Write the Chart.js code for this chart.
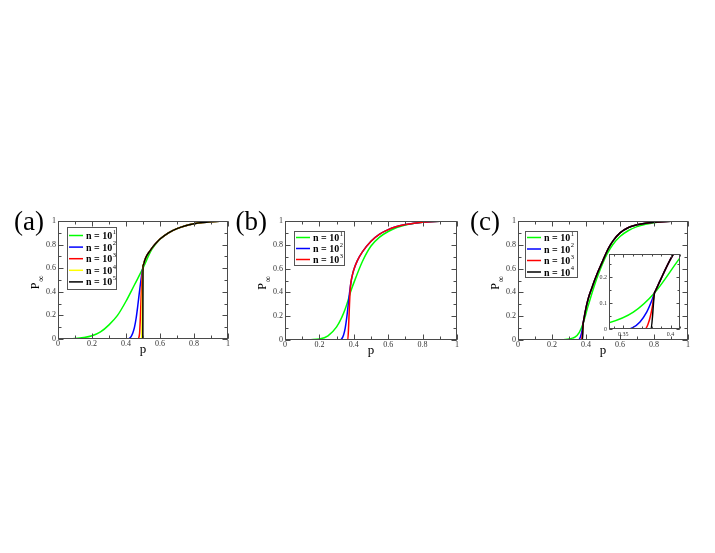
<!DOCTYPE html>
<html><head><meta charset="utf-8">
<script src="https://cdn.jsdelivr.net/npm/chart.js@4.4.1/dist/chart.umd.min.js"></script>
<style>
html,body{margin:0;padding:0;background:#fff;width:715px;height:553px;overflow:hidden;position:relative}
.box{position:absolute}
</style></head><body>
<div class="box" id="wa" style="left:0px;top:195px;width:240px;height:170px"><canvas id="ca"></canvas></div>
<div class="box" id="wb" style="left:232px;top:195px;width:235px;height:170px"><canvas id="cb"></canvas></div>
<div class="box" id="wc" style="left:465px;top:195px;width:240px;height:170px"><canvas id="cc"></canvas></div>
<div class="box" id="wi" style="left:585px;top:246px;width:105px;height:100px"><canvas id="ci"></canvas></div>
<script>
// ---------------- data: panel (a) ----------------
const pA_n1 = [0, 0.05, 0.1, 0.15, 0.2, 0.25, 0.3, 0.35, 0.4, 0.45, 0.5, 0.55, 0.6, 0.65, 0.7, 0.75, 0.8, 0.85, 0.9, 0.95, 1];
const yA_n1 = [0, 0.002, 0.005, 0.012, 0.027, 0.06, 0.12, 0.2, 0.32, 0.46, 0.6, 0.755, 0.845, 0.9, 0.935, 0.96, 0.976, 0.987, 0.994, 0.998, 1];
const pA_n2 = [0, 0.41, 0.42, 0.43, 0.44, 0.45, 0.46, 0.47, 0.48, 0.49, 0.5, 0.51, 0.52, 0.54, 0.56, 0.58, 0.6, 0.65, 0.7, 0.75, 0.8, 0.85, 0.9, 0.95, 1];
const yA_n2 = [0, 0, 0.006, 0.02, 0.05, 0.1, 0.18, 0.29, 0.41, 0.52, 0.61, 0.665, 0.7, 0.745, 0.785, 0.818, 0.847, 0.9, 0.935, 0.96, 0.976, 0.987, 0.994, 0.998, 1];
const pA_n3 = [0, 0.47, 0.475, 0.48, 0.485, 0.49, 0.495, 0.5, 0.501, 0.51, 0.52, 0.54, 0.56, 0.58, 0.6, 0.65, 0.7, 0.75, 0.8, 0.85, 0.9, 0.95, 1];
const yA_n3 = [0, 0, 0.01, 0.05, 0.2, 0.4, 0.53, 0.615, 0.62, 0.665, 0.7, 0.745, 0.785, 0.818, 0.847, 0.9, 0.935, 0.96, 0.976, 0.987, 0.994, 0.998, 1];
const pA_n4 = [0, 0.49, 0.493, 0.496, 0.498, 0.5, 0.501, 0.51, 0.52, 0.54, 0.56, 0.58, 0.6, 0.65, 0.7, 0.75, 0.8, 0.85, 0.9, 0.95, 1];
const yA_n4 = [0, 0, 0.05, 0.35, 0.55, 0.62, 0.625, 0.665, 0.7, 0.745, 0.785, 0.818, 0.847, 0.9, 0.935, 0.96, 0.976, 0.987, 0.994, 0.998, 1];
const pA_n5 = [0, 0.499, 0.5, 0.501, 0.51, 0.52, 0.54, 0.56, 0.58, 0.6, 0.65, 0.7, 0.75, 0.8, 0.85, 0.9, 0.95, 1];
const yA_n5 = [0, 0, 0.62, 0.625, 0.665, 0.7, 0.745, 0.785, 0.818, 0.847, 0.9, 0.935, 0.96, 0.976, 0.987, 0.994, 0.998, 1];

// ---------------- data: panel (b) ----------------
const pB_n1 = [0, 0.1, 0.15, 0.2, 0.25, 0.3, 0.33, 0.35, 0.37, 0.38, 0.4, 0.45, 0.5, 0.55, 0.6, 0.65, 0.7, 0.75, 0.8, 0.9, 1];
const yB_n1 = [0, 0.001, 0.003, 0.008, 0.035, 0.11, 0.19, 0.26, 0.35, 0.4, 0.48, 0.66, 0.79, 0.865, 0.912, 0.945, 0.967, 0.98, 0.989, 0.997, 1];
const pB_n2 = [0, 0.32, 0.33, 0.34, 0.35, 0.36, 0.37, 0.38, 0.39, 0.4, 0.42, 0.45, 0.5, 0.55, 0.6, 0.65, 0.7, 0.75, 0.8, 0.9, 1];
const yB_n2 = [0, 0, 0.01, 0.04, 0.1, 0.2, 0.33, 0.45, 0.535, 0.59, 0.665, 0.74, 0.83, 0.89, 0.928, 0.953, 0.97, 0.982, 0.99, 0.998, 1];
const pB_n3 = [0, 0.365, 0.37, 0.375, 0.38, 0.385, 0.39, 0.4, 0.42, 0.45, 0.5, 0.55, 0.6, 0.65, 0.7, 0.75, 0.8, 0.9, 1];
const yB_n3 = [0, 0, 0.12, 0.3, 0.44, 0.5, 0.535, 0.59, 0.665, 0.74, 0.83, 0.89, 0.928, 0.953, 0.97, 0.982, 0.99, 0.998, 1];

// ---------------- data: panel (c) (also used by the inset) ----------------
const pC_n1 = [0, 0.2, 0.25, 0.28, 0.3, 0.32, 0.335, 0.3607, 0.383, 0.409, 0.43, 0.45, 0.475, 0.5, 0.525, 0.557, 0.6, 0.65, 0.7, 0.75, 0.8, 0.9, 1];
const yC_n1 = [0, 0, 0.002, 0.005, 0.009, 0.016, 0.024, 0.065, 0.139, 0.27, 0.37, 0.46, 0.56, 0.65, 0.725, 0.8, 0.87, 0.92, 0.953, 0.973, 0.986, 0.997, 1];
const pC_n2 = [0, 0.355, 0.36, 0.3677, 0.3748, 0.38, 0.383, 0.384, 0.39, 0.4, 0.41, 0.42, 0.435, 0.45, 0.465, 0.48, 0.5, 0.52, 0.54, 0.56, 0.6, 0.65, 0.7, 0.75, 0.8, 0.9, 1];
const yC_n2 = [0, 0, 0.005, 0.027, 0.065, 0.108, 0.139, 0.147, 0.195, 0.27, 0.33, 0.38, 0.44, 0.5, 0.555, 0.605, 0.67, 0.735, 0.79, 0.835, 0.9, 0.945, 0.968, 0.982, 0.99, 0.998, 1];
const pC_n3 = [0, 0.373, 0.3776, 0.381, 0.383, 0.384, 0.39, 0.4, 0.41, 0.42, 0.435, 0.45, 0.465, 0.48, 0.5, 0.52, 0.54, 0.56, 0.6, 0.65, 0.7, 0.75, 0.8, 0.9, 1];
const yC_n3 = [0, 0, 0.034, 0.09, 0.139, 0.147, 0.195, 0.27, 0.33, 0.38, 0.44, 0.5, 0.555, 0.605, 0.67, 0.735, 0.79, 0.835, 0.9, 0.945, 0.968, 0.982, 0.99, 0.998, 1];
const pC_n4 = [0, 0.3794, 0.383, 0.384, 0.39, 0.4, 0.41, 0.42, 0.435, 0.45, 0.465, 0.48, 0.5, 0.52, 0.54, 0.56, 0.6, 0.65, 0.7, 0.75, 0.8, 0.9, 1];
const yC_n4 = [0, 0, 0.139, 0.147, 0.195, 0.27, 0.33, 0.38, 0.44, 0.5, 0.555, 0.605, 0.67, 0.735, 0.79, 0.835, 0.9, 0.945, 0.968, 0.982, 0.99, 0.998, 1];

// ---------------- labels / ticks ----------------
const legendExpA = ['1', '2', '3', '4', '5'];
const legendExpB = ['1', '2', '3'];
const legendExpC = ['1', '2', '3', '4'];
const mainTicks = {min: 0, max: 1, step: 0.2, minor: 0.1};
const insetX = {min: 0.335, max: 0.41, step: 0.05, minor: 0.01};
const insetY = {min: 0, max: 0.29, step: 0.1, minor: 0.05};

const COLORS = {g: '#00ff00', b: '#0000ff', r: '#ff0000', y: '#ffff00', k: '#000000'};
const SERIF = '"Liberation Serif", "Times New Roman", serif';

function pts(px, py) { return px.map((x, i) => ({x: x, y: py[i]})); }
function ds(px, py, color, order) {
  return {data: pts(px, py), borderColor: color, backgroundColor: color, borderWidth: 1.5,
          pointRadius: 0, cubicInterpolationMode: 'monotone', fill: false, order: order};
}
function fmt(v) { return String(+(+v).toFixed(3)); }

const decor = {
  id: 'decor',
  beforeDatasetsDraw(chart, args, o) {
    if (o.whiteArea) {
      const a = chart.chartArea, c = chart.ctx;
      c.save(); c.fillStyle = '#fff';
      c.fillRect(a.left, a.top, a.right - a.left, a.bottom - a.top);
      c.restore();
    }
  },
  afterDraw(chart, args, o) {
    const c = chart.ctx, a = chart.chartArea, xs = chart.scales.x, ys = chart.scales.y;
    c.save();
    c.strokeStyle = '#4a4a4a'; c.lineWidth = 1;
    const L = Math.round(a.left) + 0.5, R = Math.round(a.right) - 0.5;
    const T = Math.round(a.top) + 0.5, B = Math.round(a.bottom) - 0.5;
    c.strokeRect(L, T, R - L, B - T);
    const mult = (scale, step) => {
      const out = [];
      for (let k = Math.ceil(scale.min / step - 1e-6); k * step <= scale.max + 1e-9; k++) out.push(k * step);
      return out;
    };
    const drawTicks = (scale, step, len, horiz) => {
      c.beginPath();
      mult(scale, step).forEach(v => {
        const p = Math.round(scale.getPixelForValue(v)) + 0.5;
        if (horiz) { c.moveTo(p, B); c.lineTo(p, B - len); c.moveTo(p, T); c.lineTo(p, T + len); }
        else { c.moveTo(L, p); c.lineTo(L + len, p); c.moveTo(R, p); c.lineTo(R - len, p); }
      });
      c.stroke();
    };
    drawTicks(xs, o.xMinor, o.minorLen, true);
    drawTicks(ys, o.yMinor, o.minorLen, false);
    drawTicks(xs, o.xMajor, o.majorLen, true);
    drawTicks(ys, o.yMajor, o.majorLen, false);

    // tick labels from the library's own tick list
    c.fillStyle = '#333';
    c.font = o.fs + 'px ' + SERIF;
    c.textBaseline = 'middle';
    c.textAlign = 'right';
    ys.ticks.forEach(t => c.fillText(fmt(t.value), a.left - o.lgap, ys.getPixelForValue(t.value)));
    c.textAlign = 'center';
    xs.ticks.forEach(t => c.fillText(fmt(t.value), xs.getPixelForValue(t.value), a.bottom + o.bgap));

    c.fillStyle = '#000';
    if (o.panel) {
      c.font = '27px ' + SERIF; c.textAlign = 'right'; c.textBaseline = 'alphabetic';
      c.fillText(o.panel, a.left + o.panelDx, a.top + o.panelDy);
    }
    if (o.titles) {
      const midX = (a.left + a.right) / 2, midY = (a.top + a.bottom) / 2;
      c.font = '13px ' + SERIF; c.textAlign = 'center'; c.textBaseline = 'alphabetic';
      c.fillText('p', midX, a.bottom + 14);
      c.save();
      c.translate(a.left - 19, midY + 3);
      c.rotate(-Math.PI / 2);
      c.font = '12px ' + SERIF; c.textAlign = 'left';
      const w = c.measureText('P').width;
      c.fillText('P', -w / 2 - 3, 0);
      c.font = '9px ' + SERIF;
      c.fillText('\u221e', w / 2 - 2, 5);
      c.restore();
    }
    if (o.legend) {
      const lg = o.legend;
      const bx = a.left + lg.dx, by = a.top + lg.dy;
      c.strokeStyle = '#555'; c.lineWidth = 1;
      c.strokeRect(Math.round(bx) + 0.5, Math.round(by) + 0.5, lg.w, lg.h);
      lg.items.forEach((it, i) => {
        const yy = by + lg.first + i * lg.row;
        c.strokeStyle = it.color; c.lineWidth = 1.5;
        c.beginPath(); c.moveTo(bx + 2, yy); c.lineTo(bx + 16, yy); c.stroke();
        c.fillStyle = '#000';
        c.font = 'bold 10px ' + SERIF; c.textAlign = 'left'; c.textBaseline = 'middle';
        const t = 'n = 10';
        c.fillText(t, bx + 19, yy + 1);
        const tw = c.measureText(t).width;
        c.font = '6.5px ' + SERIF;
        c.fillText(it.exp, bx + 19 + tw + 0.5, yy - 3.5);
      });
    }
    c.restore();
  }
};
Chart.register(decor);

function makeChart(id, box, area, datasets, xr, yr, opt) {
  const padding = {
    left: area.l - box.left,
    top: area.t - box.top,
    right: box.left + box.w - area.r,
    bottom: box.top + box.h - area.b
  };
  return new Chart(document.getElementById(id), {
    type: 'line',
    data: {datasets: datasets},
    options: {
      responsive: true, maintainAspectRatio: false, animation: false,
      layout: {padding: padding},
      plugins: {legend: {display: false}, tooltip: {enabled: false},
        decor: Object.assign({xMajor: xr.step, xMinor: xr.minor, yMajor: yr.step, yMinor: yr.minor,
                              majorLen: opt.majorLen, minorLen: opt.minorLen,
                              fs: opt.fs, lgap: opt.lgap, bgap: opt.bgap}, opt.decor)},
      scales: {
        x: {type: 'linear', min: xr.min, max: xr.max, grid: {display: false}, border: {display: false},
            afterFit: s => { s.height = 0; },
            ticks: {display: false, stepSize: xr.step, includeBounds: false, autoSkip: false}},
        y: {type: 'linear', min: yr.min, max: yr.max, grid: {display: false}, border: {display: false},
            afterFit: s => { s.width = 0; },
            ticks: {display: false, stepSize: yr.step, includeBounds: false, autoSkip: false}}
      }
    }
  });
}

const mainOpt = (decorExtra) => ({fs: 8, lgap: 2, bgap: 5, majorLen: 5, minorLen: 3, decor: decorExtra});

makeChart('ca', {left: 0, top: 195, w: 240, h: 170}, {l: 58, t: 221, r: 228, b: 339},
  [ds(pA_n1, yA_n1, COLORS.g, 5), ds(pA_n2, yA_n2, COLORS.b, 4), ds(pA_n3, yA_n3, COLORS.r, 3),
   ds(pA_n4, yA_n4, COLORS.y, 2), ds(pA_n5, yA_n5, COLORS.k, 1)],
  mainTicks, mainTicks,
  mainOpt({panel: '(a)', panelDx: -14, panelDy: 9, titles: true,
    legend: {dx: 9, dy: 6, w: 49, h: 62, first: 8.5, row: 11.6,
      items: [COLORS.g, COLORS.b, COLORS.r, COLORS.y, COLORS.k].map((col, i) => ({color: col, exp: legendExpA[i]}))}}));

makeChart('cb', {left: 232, top: 195, w: 235, h: 170}, {l: 285, t: 221, r: 457, b: 340},
  [ds(pB_n1, yB_n1, COLORS.g, 3), ds(pB_n2, yB_n2, COLORS.b, 2), ds(pB_n3, yB_n3, COLORS.r, 1)],
  mainTicks, mainTicks,
  mainOpt({panel: '(b)', panelDx: -18, panelDy: 9, titles: true,
    legend: {dx: 9, dy: 10, w: 50, h: 34, first: 6.5, row: 11,
      items: [COLORS.g, COLORS.b, COLORS.r].map((col, i) => ({color: col, exp: legendExpB[i]}))}}));

makeChart('cc', {left: 465, top: 195, w: 240, h: 170}, {l: 518, t: 221, r: 688, b: 340},
  [ds(pC_n1, yC_n1, COLORS.g, 4), ds(pC_n2, yC_n2, COLORS.b, 3), ds(pC_n3, yC_n3, COLORS.r, 2), ds(pC_n4, yC_n4, COLORS.k, 1)],
  mainTicks, mainTicks,
  mainOpt({panel: '(c)', panelDx: -18, panelDy: 9, titles: true,
    legend: {dx: 7, dy: 10, w: 52, h: 46, first: 6.5, row: 11.5,
      items: [COLORS.g, COLORS.b, COLORS.r, COLORS.k].map((col, i) => ({color: col, exp: legendExpC[i]}))}}));

makeChart('ci', {left: 585, top: 246, w: 105, h: 100}, {l: 609, t: 254, r: 680, b: 329},
  [ds(pC_n1, yC_n1, COLORS.g, 4), ds(pC_n2, yC_n2, COLORS.b, 3), ds(pC_n3, yC_n3, COLORS.r, 2), ds(pC_n4, yC_n4, COLORS.k, 1)],
  insetX, insetY,
  {fs: 6, lgap: 2, bgap: 5, majorLen: 3, minorLen: 2, decor: {whiteArea: true}});
</script>
</body></html>
